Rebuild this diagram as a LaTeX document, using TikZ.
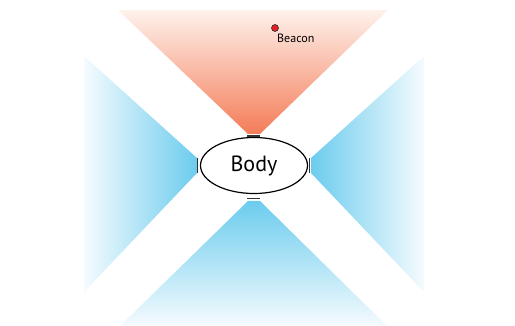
\documentclass[tikz,border=0pt]{standalone}
\usepackage{fontspec}
\setmainfont{PT Sans}
\usetikzlibrary{shapes.geometric}
\definecolor{conered}{RGB}{244,124,88}
\definecolor{conered0}{RGB}{254,242,236}
\definecolor{coneblue}{RGB}{108,204,238}
\definecolor{coneblue0}{RGB}{245,251,254}
\definecolor{tickgray}{RGB}{50,50,50}
\definecolor{beaconred}{RGB}{230,30,35}
\tikzset{
  tickline/.style={draw=tickgray,line width=1.8pt},
  bodyshape/.style={ellipse,draw=black,line width=1.2pt,minimum width=107pt,minimum height=56pt,inner sep=0pt,font=\fontsize{22}{24}\selectfont},
  beacondot/.style={circle,fill=beaconred,draw=black!80,line width=0.6pt,minimum size=7pt,inner sep=0pt},
  beaconlabel/.style={font=\fontsize{12}{13}\selectfont,inner sep=0pt,anchor=north west}
}
\begin{document}
\begin{tikzpicture}[x=1pt,y=-1pt]
\useasboundingbox (0,0) rectangle (515,326);
% cones
\shade[top color=conered0,bottom color=conered] (118,10) -- (388,10) -- (260,134) -- (248,134) -- cycle;
\shade[top color=coneblue,bottom color=coneblue0] (248,201) -- (260,201) -- (387,326) -- (120,326) -- cycle;
\shade[left color=coneblue0,right color=coneblue] (84,56) -- (197,158) -- (197,173) -- (84,292) -- cycle;
\shade[left color=coneblue,right color=coneblue0] (311,158) -- (424,56) -- (424,292) -- (311,173) -- cycle;
% body
\node[bodyshape] (body) at (254,165.5) {Body};
% ticks
\draw[tickline] (247,136) -- (260,136);
\draw[tickline] (247,198.5) -- (260,198.5);
\draw[tickline] (197.5,158) -- (197.5,173);
\draw[tickline] (309.5,158) -- (309.5,173);
% beacon
\node[beacondot] (beacon) at (275,28) {};
\node[beaconlabel] (beaconlbl) at (277,34) {Beacon};
\end{tikzpicture}
\end{document}
